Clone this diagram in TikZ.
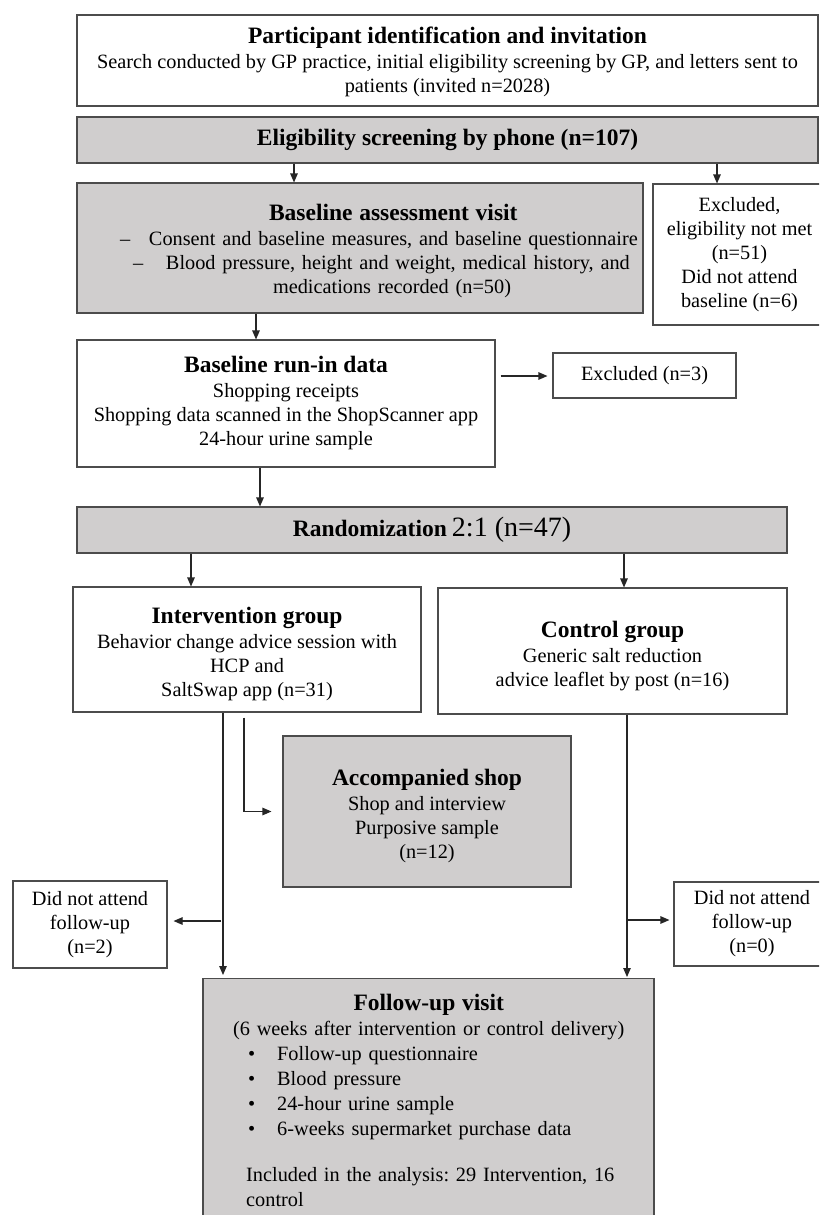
\documentclass[tikz,border=0pt]{standalone}
\usepackage{fontspec}
\setmainfont{Liberation Serif}
\usetikzlibrary{arrows.meta}
\definecolor{boxgray}{RGB}{208,206,206}
\newcommand\dgbody{\fontsize{20.3pt}{24pt}\selectfont}
\newcommand\dgfu{\fontsize{20.3pt}{25pt}\selectfont}
\newcommand\dgtitle{\fontsize{23.5pt}{26pt}\selectfont\bfseries}
\newcommand\dgbig{\fontsize{28pt}{30pt}\selectfont}
\newcommand\dgstrut[1]{\rule{0pt}{#1}}
\frenchspacing
\begin{document}
\begin{tikzpicture}[x=1pt,y=-1pt,
  box/.style={draw=black!70, line width=1.1pt, fill=white, align=center, inner sep=0pt, font=\dgbody},
  graybox/.style={box, fill=boxgray},
  plaintext/.style={inner sep=0pt, font=\dgfu},
  arr/.style={draw=black!85, line width=1.1pt, -{Triangle[length=9pt,width=7.5pt]}},
]
\useasboundingbox (0,0) rectangle (819,1215);
\clip (0,0) rectangle (819,1215);
\fill[white] (0,0) rectangle (819,1215);

% boxes
\node[box, minimum width=741pt, minimum height=91pt] (inv) at (447.5,60.5)
  {\dgstrut{20pt}{\dgtitle Participant identification and invitation}\\[1pt]
   Search conducted by GP practice, initial eligibility screening by GP, and letters sent to\\
   patients (invited n=2028)};
\node[graybox, minimum width=741pt, minimum height=46pt] (elig) at (447.5,140)
  {\dgtitle Eligibility screening by phone (n=107)};
\node[graybox, minimum width=566pt, minimum height=130pt, text width=566pt, align=left] (base) at (360,248)
  {\dgstrut{22pt}\hspace*{192pt}{\dgtitle Baseline assessment visit}\\[1pt]
   \hspace*{43pt}\makebox[29pt][l]{–}Consent and baseline measures, and baseline questionnaire\\
   \hspace*{56pt}\makebox[33pt][l]{–}Blood pressure, height and weight, medical history, and\\
   \hspace*{196pt}medications recorded (n=50)};
\node[box, minimum width=173pt, minimum height=141pt] (excl) at (739.5,254.5)
  {Excluded,\\eligibility not met\\(n=51)\\Did not attend\\baseline (n=6)};
\node[box, minimum width=418pt, minimum height=127pt] (runin) at (286,403.5)
  {{\dgtitle Baseline run-in data}\\[1pt]
   Shopping receipts\\
   Shopping data scanned in the ShopScanner app\\
   24-hour urine sample};
\node[box, minimum width=183pt, minimum height=45pt] (excl3) at (644.5,375.5)
  {Excluded (n=3)};
\node[graybox, minimum width=710pt, minimum height=46pt] (rand) at (432,530)
  {{\dgtitle Randomization} {\dgbig 2:1 (n=47)}};
\node[box, minimum width=348pt, minimum height=125pt] (interv) at (247,649.5)
  {\dgstrut{25pt}{\dgtitle Intervention group}\\[1pt]
   Behavior change advice session with\\
   HCP and\\
   SaltSwap app (n=31)};
\node[box, minimum width=349pt, minimum height=126pt] (ctrl) at (612.5,651)
  {\dgstrut{26pt}{\dgtitle Control group}\\[1pt]
   Generic salt reduction\\
   advice leaflet by post (n=16)};
\node[graybox, minimum width=288pt, minimum height=151pt] (shop) at (427,811.5)
  {\dgstrut{25pt}{\dgtitle Accompanied shop}\\[1pt]
   Shop and interview\\
   Purposive sample\\
   (n=12)};
\node[box, minimum width=154pt, minimum height=87pt] (dnaL) at (90,924.5)
  {Did not attend\\follow-up\\(n=2)};
\node[box, minimum width=156pt, minimum height=84pt] (dnaR) at (752,924)
  {Did not attend\\follow-up\\(n=0)};
\node[graybox, minimum width=451pt, minimum height=280pt, anchor=north] (fu) at (428.5,978) {};
\node[plaintext, anchor=north west, text width=400pt, align=left] (fut) at (246,994)
  {\makebox[365pt]{\dgtitle Follow-up visit}\\
   \makebox[365pt]{(6 weeks after intervention or control delivery)}\\
   \hspace*{2pt}\makebox[29pt][l]{\textbullet}Follow-up questionnaire\\
   \hspace*{2pt}\makebox[29pt][l]{\textbullet}Blood pressure\\
   \hspace*{2pt}\makebox[29pt][l]{\textbullet}24-hour urine sample\\
   \hspace*{2pt}\makebox[29pt][l]{\textbullet}6-weeks supermarket purchase data\\[21pt]
   Included in the analysis: 29 Intervention, 16\\
   control};

% columns / rows
\coordinate (x191) at (191,0);
\coordinate (x223) at (223,0);
\coordinate (x244) at (244,0);
\coordinate (x256) at (256,0);
\coordinate (x260) at (260,0);
\coordinate (x294) at (294,0);
\coordinate (x624) at (624,0);
\coordinate (x627) at (627,0);
\coordinate (x717) at (717,0);
\coordinate (y376) at (0,376);
\coordinate (y920) at (0,920);
\coordinate (y921) at (0,921);

% connectors
\draw[arr] (elig.south -| x294) -- (base.north -| x294);
\draw[arr] (elig.south -| x717) -- (excl.north -| x717);
\draw[arr] (base.south -| x256) -- (runin.north -| x256);
\draw[arr, shorten <=5pt, shorten >=5pt] (runin.east |- y376) -- (excl3.west |- y376);
\draw[arr] (runin.south -| x260) -- (rand.north -| x260);
\draw[arr] (rand.south -| x191) -- (interv.north -| x191);
\draw[arr] (rand.south -| x624) -- (ctrl.north -| x624);
\draw[arr, shorten >=3pt] (interv.south -| x223) -- (fu.north -| x223);
\draw[arr, shorten <=5pt, shorten >=11pt] (interv.south -| x244) |- (shop.west);
\draw[arr, shorten <=2pt, shorten >=6pt] (x223 |- y921) -- (dnaL.east |- y921);
\draw[arr, shorten >=1pt] (ctrl.south -| x627) -- (fu.north -| x627);
\draw[arr, shorten >=4pt] (x627 |- y920) -- (dnaR.west |- y920);
\end{tikzpicture}
\end{document}
